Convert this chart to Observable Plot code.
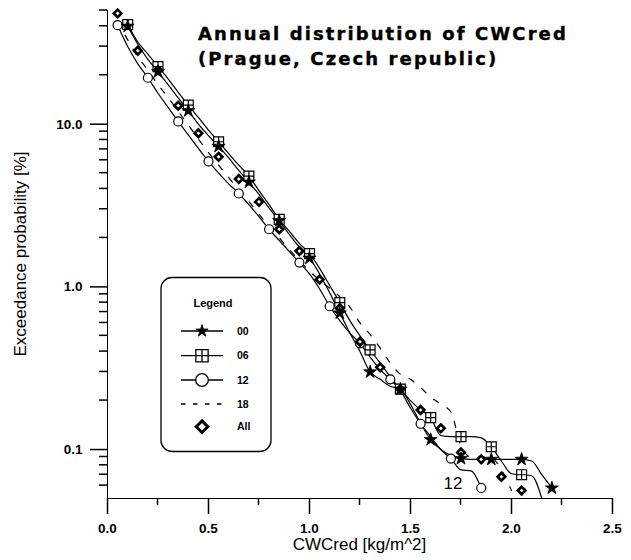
<!DOCTYPE html>
<html><head><meta charset="utf-8">
<script src="https://cdn.jsdelivr.net/npm/d3@7"></script>
<script src="https://cdn.jsdelivr.net/npm/@observablehq/plot@0.6"></script>
<style>
html,body{margin:0;padding:0;background:#fff;}
#chart{width:631px;height:560px;}
#chart svg [aria-label^="x-axis"] line, #chart svg [aria-label^="x-axis"] path,
#chart svg [aria-label^="y-axis"] line, #chart svg [aria-label^="y-axis"] path{stroke-width:1.5px;}
</style></head><body><div id="chart"></div>
<script>
// ---- data ----
const seriesNames = ["00", "06", "12", "18", "All"];

const x00 = [0.10,0.15,0.20,0.25,0.30,0.35,0.40,0.45,0.50,0.55,0.60,0.65,0.70,0.75,0.80,0.85,0.90,0.95,1.00,1.05,1.10,1.15,1.20,1.25,1.30,1.35,1.40,1.45,1.50,1.55,1.60,1.65,1.70,1.75,1.80,1.85,1.90,1.95,2.00,2.05,2.10,2.15,2.20];
const p00 = [40,31,25,21,17.5,14.5,12.1,10.0,8.5,7.3,6.2,5.2,4.4,3.7,3.05,2.55,2.1,1.75,1.5,1.2,0.92,0.69,0.52,0.40,0.30,0.27,0.245,0.235,0.19,0.145,0.115,0.10,0.092,0.088,0.087,0.087,0.087,0.087,0.087,0.087,0.085,0.07,0.058];

const x06 = [0.10,0.15,0.20,0.25,0.30,0.35,0.40,0.45,0.50,0.55,0.60,0.65,0.70,0.75,0.80,0.85,0.90,0.95,1.00,1.05,1.10,1.15,1.20,1.25,1.30,1.35,1.40,1.45,1.50,1.55,1.60,1.65,1.70,1.75,1.80,1.85,1.90,1.95,2.00,2.05,2.10,2.15];
const p06 = [41,32,27,22.6,19,15.7,13.1,11,9.2,7.8,6.6,5.6,4.8,3.9,3.2,2.6,2.2,1.85,1.6,1.3,1.02,0.80,0.62,0.50,0.41,0.34,0.28,0.235,0.20,0.175,0.157,0.122,0.12,0.12,0.12,0.118,0.104,0.085,0.071,0.07,0.069,0.05];

const x12 = [0.05,0.10,0.15,0.20,0.25,0.30,0.35,0.40,0.45,0.50,0.55,0.60,0.65,0.70,0.75,0.80,0.85,0.90,0.95,1.00,1.05,1.10,1.15,1.20,1.25,1.30,1.35,1.40,1.45,1.50,1.55,1.60,1.65,1.70,1.75,1.80,1.85];
const p12 = [40.6,30,23.5,19.3,15.5,12.7,10.4,8.6,7.1,5.9,5.0,4.3,3.75,3.2,2.7,2.26,1.93,1.65,1.41,1.2,0.97,0.76,0.62,0.52,0.45,0.37,0.31,0.27,0.23,0.18,0.144,0.12,0.10,0.088,0.075,0.074,0.058];

const x18 = [0.05,0.10,0.15,0.20,0.25,0.30,0.35,0.40,0.45,0.50,0.55,0.60,0.65,0.70,0.75,0.80,0.85,0.90,0.95,1.00,1.05,1.10,1.15,1.20,1.25,1.30,1.35,1.40,1.45,1.50,1.55,1.60,1.65,1.70,1.75,1.80,1.85,1.90,1.95,2.00];
const p18 = [43,33,26,21.5,17.5,14.6,12,9.9,8.1,6.7,5.6,4.7,3.95,3.35,2.8,2.35,2.0,1.7,1.45,1.25,1.1,0.98,0.87,0.75,0.6,0.51,0.42,0.34,0.29,0.27,0.24,0.21,0.19,0.17,0.105,0.09,0.09,0.089,0.075,0.056];

const xAll = [0.05,0.15,0.25,0.35,0.45,0.55,0.65,0.75,0.85,0.95,1.05,1.15,1.25,1.35,1.45,1.55,1.65,1.75,1.85,1.95,2.05];
const pAll = [48,28.3,21.5,13.0,8.8,6.3,4.6,3.33,2.26,1.66,1.11,0.74,0.46,0.32,0.235,0.175,0.135,0.096,0.087,0.068,0.056];

const annoX = [1.71], annoY = [0.062], annoText = ["12"];

const xTicks = [0, 0.5, 1, 1.5, 2, 2.5];
const xMinorTicks = [0.25, 0.75, 1.25, 1.75, 2.25];
const yTicks = [0.1, 1, 10];
const yTickLabels = ["0.1", "1.0", "10.0"];
const yMinorTicks = [0.06,0.07,0.08,0.09,0.2,0.3,0.4,0.5,0.6,0.7,0.8,0.9,2,3,4,5,6,7,8,9,20,30,40,50];
const titleLines = ["Annual distribution of CWCred", "(Prague, Czech republic)"];
const xLabel = "CWCred [kg/m^2]";
const yLabel = "Exceedance probability [%]";

// ---- build ----
const rows = (xs, ps) => xs.map((x, i) => ({x, p: ps[i]}));
const d00 = rows(x00, p00), d06 = rows(x06, p06), d12 = rows(x12, p12), d18 = rows(x18, p18), dAll = rows(xAll, pAll);
const every3 = (d, i) => i % 3 === 0;
const anno = annoX.map((x, i) => ({x, p: annoY[i], t: annoText[i]}));

const squarePlus = {
  draw(ctx, size) {
    const h = Math.sqrt(size) / 2;
    ctx.moveTo(-h, -h); ctx.lineTo(h, -h); ctx.lineTo(h, h); ctx.lineTo(-h, h); ctx.closePath();
    ctx.moveTo(-h, 0); ctx.lineTo(h, 0);
    ctx.moveTo(0, -h); ctx.lineTo(0, h);
  }
};

const FONT = "'Liberation Sans', Arial, Helvetica, sans-serif";
const lineOpts = {x: "x", y: "p", curve: "monotone-x", stroke: "black", strokeWidth: 1.2};

const chart = Plot.plot({
  width: 631, height: 560,
  marginLeft: 107, marginRight: 19, marginTop: 10, marginBottom: 62,
  style: {fontFamily: FONT, fontSize: "13.5px", fontWeight: "bold", background: "white", color: "black"},
  x: {domain: [0, 2.5], ticks: xTicks, tickFormat: d => d.toFixed(1), tickSize: 16, tickPadding: 9, label: null, line: true},
  y: {type: "log", domain: [0.05, 50], ticks: yTicks, tickFormat: d => yTickLabels[yTicks.indexOf(d)], tickSize: 17, tickPadding: 8, label: null, line: true},
  marks: [
    Plot.line(d18, {...lineOpts, strokeDasharray: "6,10"}),
    Plot.line(d12, lineOpts),
    Plot.line(d06, lineOpts),
    Plot.line(d00, lineOpts),
    Plot.dot(d12.filter(every3), {x: "x", y: "p", symbol: "circle", r: 4.5, fill: "white", stroke: "black", strokeWidth: 1.2}),
    Plot.dot(d06.filter(every3), {x: "x", y: "p", symbol: squarePlus, r: 5.6, fill: "white", stroke: "black", strokeWidth: 1.2}),
    Plot.dot(dAll, {x: "x", y: "p", symbol: "diamond2", r: 3.4, fill: "white", stroke: "black", strokeWidth: 2.7}),
    Plot.dot(d00.filter(every3), {x: "x", y: "p", symbol: "star", r: 4.1, fill: "black", stroke: "black", strokeWidth: 0.8}),
    Plot.text(anno, {x: "x", y: "p", text: "t", fontSize: 17, fontWeight: "normal", fontFamily: FONT, fill: "black"})
  ]
});
document.getElementById("chart").appendChild(chart);

// ---- decorations: minor ticks, axis titles, title, legend ----
function scaleFn(name, kind) {
  const s = chart.scale(name);
  if (s && typeof s.apply === "function") return v => s.apply(v);
  return (kind === "log" ? d3.scaleLog() : d3.scaleLinear()).domain(s.domain).range(s.range);
}
const X = scaleFn("x", "linear"), Y = scaleFn("y", "log");
const svg = d3.select(chart);
const x0 = X(0), yBase = Y(0.05);

const minor = svg.append("g").attr("stroke", "black").attr("stroke-width", 1.5);
minor.selectAll("line.ym").data(yMinorTicks).join("line")
  .attr("x1", x0 - 8).attr("x2", x0).attr("y1", d => Y(d)).attr("y2", d => Y(d));
minor.selectAll("line.xm").data(xMinorTicks).join("line")
  .attr("x1", d => X(d)).attr("x2", d => X(d)).attr("y1", yBase).attr("y2", yBase + 7);

svg.append("text").attr("x", (X(0) + X(2.5)) / 2).attr("y", 550)
  .attr("text-anchor", "middle").attr("font-size", 17).attr("font-weight", "normal")
  .attr("font-family", FONT).attr("fill", "black").text(xLabel);
svg.append("text").attr("transform", `translate(25.5,${(Y(50) + Y(0.05)) / 2}) rotate(-90)`)
  .attr("text-anchor", "middle").attr("font-size", 17).attr("font-weight", "normal")
  .attr("font-family", FONT).attr("fill", "black").text(yLabel);

const tg = svg.append("g").attr("font-family", "'DejaVu Sans', Verdana, sans-serif")
  .attr("text-anchor", "start")
  .attr("font-weight", "bold").attr("font-size", 18).attr("letter-spacing", "2.1px").attr("fill", "black")
  .attr("stroke", "black").attr("stroke-width", 0.4);
titleLines.forEach((t, i) => tg.append("text").attr("x", 198).attr("y", 40 + i * 25).text(t));

// legend
const lg = svg.append("g").attr("font-family", FONT).attr("font-weight", "bold").attr("fill", "black");
lg.append("rect").attr("x", 161).attr("y", 277.5).attr("width", 110).attr("height", 174).attr("rx", 11)
  .attr("fill", "white").attr("stroke", "black").attr("stroke-width", 1.3);
lg.append("text").attr("x", 213).attr("y", 307).attr("text-anchor", "middle").attr("font-size", 11).text("Legend");
const rowY = [331, 355.7, 380, 404, 426.7];
const legSym = [
  {sym: d3.symbolStar, size: 46, fill: "black", sw: 0.8, line: "solid"},
  {sym: squarePlus, size: 150, fill: "white", sw: 1.3, line: "solid"},
  {sym: d3.symbolCircle, size: 125, fill: "white", sw: 1.3, line: "solid"},
  {sym: null, line: "dash"},
  {sym: d3.symbolDiamond2, size: 85, fill: "white", sw: 3, line: null}
];
seriesNames.forEach((name, i) => {
  const y = rowY[i], s = legSym[i];
  if (s.line) {
    lg.append("line").attr("x1", 181).attr("x2", 223).attr("y1", y).attr("y2", y)
      .attr("stroke", "black").attr("stroke-width", 1.3)
      .attr("stroke-dasharray", s.line === "dash" ? "4.5,7.5" : null);
  }
  if (s.sym) {
    lg.append("path").attr("transform", `translate(202,${y})`)
      .attr("d", d3.symbol(s.sym, s.size)()).attr("fill", s.fill)
      .attr("stroke", "black").attr("stroke-width", s.sw);
  }
  lg.append("text").attr("x", 237).attr("y", y + 3.7).attr("text-anchor", "start").attr("font-size", 10.5).text(name);
});
</script>
</body></html>
